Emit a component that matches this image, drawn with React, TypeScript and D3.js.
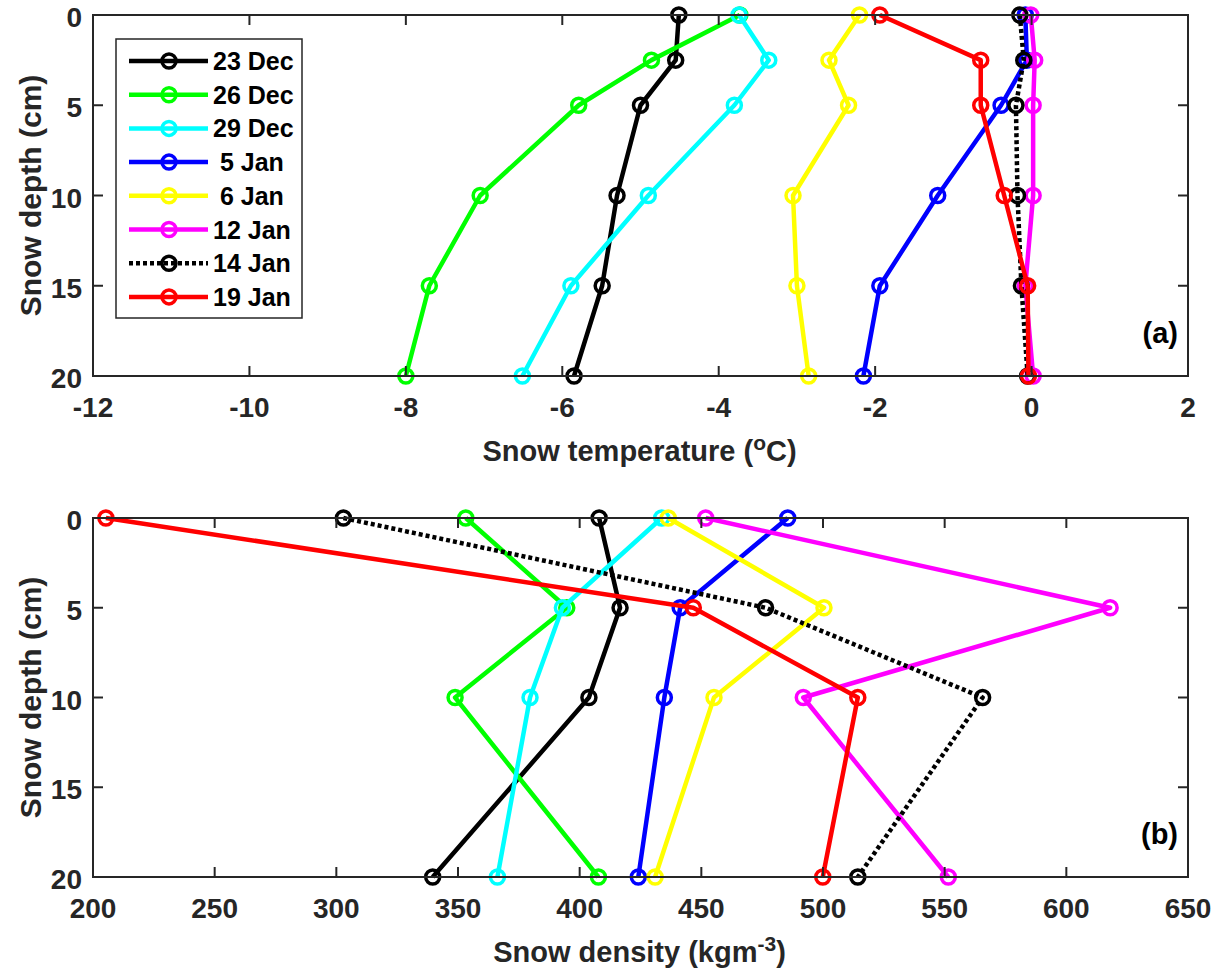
import React from "react";
import * as d3 from "d3";

const seriesNames = ["23 Dec", "26 Dec", "29 Dec", " 5 Jan", " 6 Jan", "12 Jan", "14 Jan", "19 Jan"];
const seriesColors = ["#000000", "#00ff00", "#00ffff", "#0000ff", "#ffff00", "#ff00ff", "#000000", "#ff0000"];
const seriesDotted = [false, false, false, false, false, false, true, false];

const tempDepths = [0, 2.5, 5, 10, 15, 20];
const temp23Dec = [-4.51, -4.55, -5.0, -5.3, -5.49, -5.85];
const temp26Dec = [-3.73, -4.86, -5.79, -7.05, -7.7, -8.0];
const temp29Dec = [-3.74, -3.36, -3.8, -4.9, -5.89, -6.51];
const temp5Jan = [-0.08, -0.06, -0.39, -1.2, -1.94, -2.15];
const temp6Jan = [-2.2, -2.59, -2.34, -3.05, -3.0, -2.85];
const temp12Jan = [-0.01, 0.04, 0.02, 0.02, -0.08, 0.02];
const temp14Jan = [-0.15, -0.1, -0.2, -0.18, -0.13, -0.05];
const temp19Jan = [-1.94, -0.65, -0.65, -0.35, -0.05, -0.04];
const tempSeries = [temp23Dec, temp26Dec, temp29Dec, temp5Jan, temp6Jan, temp12Jan, temp14Jan, temp19Jan];

const densDepths = [0, 5, 10, 20];
const dens23Dec = [408, 416.6, 403.8, 339.6];
const dens26Dec = [353.2, 394.7, 348.8, 407.7];
const dens29Dec = [433.7, 392.9, 379.6, 366.2];
const dens5Jan = [485.5, 441.3, 434.8, 424.1];
const dens6Jan = [436.4, 500.4, 455.2, 431];
const dens12Jan = [451.8, 618, 491.9, 551.5];
const dens14Jan = [302.9, 476.4, 565.6, 514.3];
const dens19Jan = [205.3, 446.7, 514.3, 499.9];
const densSeries = [dens23Dec, dens26Dec, dens29Dec, dens5Jan, dens6Jan, dens12Jan, dens14Jan, dens19Jan];

const tempTicks = [-12, -10, -8, -6, -4, -2, 0, 2];
const densTicks = [200, 250, 300, 350, 400, 450, 500, 550, 600, 650];
const depthTicks = [0, 5, 10, 15, 20];

const FONT = "'Liberation Sans', Arial, Helvetica, sans-serif";
const TXT = "#262626";
const AX = "#262626";

const LEFT = 93;
const RIGHT = 1188;

type PanelProps = {
  top: number;
  bottom: number;
  domain: [number, number];
  xTicks: number[];
  depths: number[];
  series: number[][];
  tag: string;
  xlabel: React.ReactNode;
};

function Panel({ top, bottom, domain, xTicks, depths, series, tag, xlabel }: PanelProps) {
  const x = d3.scaleLinear().domain(domain).range([LEFT, RIGHT]);
  const y = d3.scaleLinear().domain([0, 20]).range([top, bottom]);
  const tl = 10;
  return (
    <g>
      {series.map((vals, si) => {
        const pts: [number, number][] = vals.map((v, i) => [x(v), y(depths[i])]);
        const line = d3.line()(pts) || "";
        return (
          <g key={si}>
            <path
              d={line}
              fill="none"
              stroke={seriesColors[si]}
              strokeWidth={4.5}
              strokeDasharray={seriesDotted[si] ? "4 3" : undefined}
              strokeLinejoin="round"
            />
            {pts.map((p, i) => (
              <circle key={i} cx={p[0]} cy={p[1]} r={7} fill="none" stroke={seriesColors[si]} strokeWidth={3.5} />
            ))}
          </g>
        );
      })}
      <rect x={LEFT} y={top} width={RIGHT - LEFT} height={bottom - top} fill="none" stroke={AX} strokeWidth={2} />
      {xTicks.map((t) => (
        <g key={"xt" + t}>
          <line x1={x(t)} x2={x(t)} y1={bottom} y2={bottom - tl} stroke={AX} strokeWidth={2} />
          <line x1={x(t)} x2={x(t)} y1={top} y2={top + tl} stroke={AX} strokeWidth={2} />
          <text x={x(t)} y={bottom + 41} textAnchor="middle" fontSize={28} fontWeight="bold" fill={TXT} fontFamily={FONT}>
            {t}
          </text>
        </g>
      ))}
      {depthTicks.map((t) => (
        <g key={"yt" + t}>
          <line x1={LEFT} x2={LEFT + tl} y1={y(t)} y2={y(t)} stroke={AX} strokeWidth={2} />
          <line x1={RIGHT} x2={RIGHT - tl} y1={y(t)} y2={y(t)} stroke={AX} strokeWidth={2} />
          <text x={82} y={y(t) + 12} textAnchor="end" fontSize={28} fontWeight="bold" fill={TXT} fontFamily={FONT}>
            {t}
          </text>
        </g>
      ))}
      <text
        transform={`translate(41,${(top + bottom) / 2}) rotate(-90)`}
        textAnchor="middle"
        fontSize={30}
        fontWeight="bold"
        fill={TXT}
        fontFamily={FONT}
      >
        Snow depth (cm)
      </text>
      <text
        x={(LEFT + RIGHT) / 2 - 1}
        y={bottom + 85}
        textAnchor="middle"
        fontSize={29}
        fontWeight="bold"
        fill={TXT}
        fontFamily={FONT}
      >
        {xlabel}
      </text>
      <text x={1178} y={bottom - 33} textAnchor="end" fontSize={29} fontWeight="bold" fill="#000" fontFamily={FONT}>
        {tag}
      </text>
    </g>
  );
}

function Legend() {
  const x0 = 116;
  const y0 = 39;
  const w = 186;
  const h = 279;
  const rowY0 = 61;
  const dy = 33.7;
  return (
    <g>
      <rect x={x0} y={y0} width={w} height={h} fill="#fff" stroke={AX} strokeWidth={1.5} />
      {seriesNames.map((n, i) => {
        const yy = rowY0 + i * dy;
        return (
          <g key={n}>
            <line
              x1={129}
              x2={208}
              y1={yy}
              y2={yy}
              stroke={seriesColors[i]}
              strokeWidth={4.5}
              strokeDasharray={seriesDotted[i] ? "4 3" : undefined}
            />
            <circle cx={169} cy={yy} r={7} fill="none" stroke={seriesColors[i]} strokeWidth={3.5} />
            <text
              x={213}
              y={yy + 9}
              fontSize={25}
              fontWeight="bold"
              fill="#000"
              fontFamily={FONT}
              style={{ whiteSpace: "pre" }}
            >
              {n}
            </text>
          </g>
        );
      })}
    </g>
  );
}

export default function App() {
  return (
    <svg width={1221} height={976} style={{ position: "absolute", left: 0, top: 0, background: "#fff" }}>
      <rect width={1221} height={976} fill="#fff" />
      <Panel
        top={15}
        bottom={376}
        domain={[-12, 2]}
        xTicks={tempTicks}
        depths={tempDepths}
        series={tempSeries}
        tag="(a)"
        xlabel={
          <>
            Snow temperature (<tspan dy={-11} fontSize={21}>o</tspan>
            <tspan dy={11}>C)</tspan>
          </>
        }
      />
      <Legend />
      <Panel
        top={518}
        bottom={877}
        domain={[200, 650]}
        xTicks={densTicks}
        depths={densDepths}
        series={densSeries}
        tag="(b)"
        xlabel={
          <>
            Snow density (kgm<tspan dy={-11} fontSize={21}>-3</tspan>
            <tspan dy={11}>)</tspan>
          </>
        }
      />
    </svg>
  );
}
